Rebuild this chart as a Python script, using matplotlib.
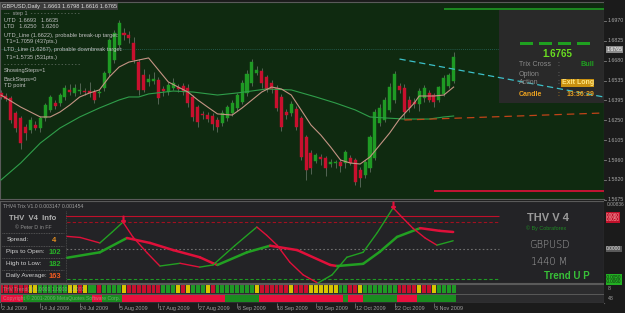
import matplotlib
matplotlib.use("Agg")
import matplotlib.pyplot as plt
from matplotlib.patches import Rectangle
from matplotlib.collections import LineCollection
import numpy as np

plt.rcParams['font.family'] = ['Liberation Sans', 'DejaVu Sans']

# ---------------- data ----------------
opens = [1.6448, 1.6426, 1.6412, 1.6303, 1.6267, 1.6201, 1.6180, 1.6216, 1.6194, 1.6267,
         1.6325, 1.6375, 1.6375, 1.6419, 1.6470, 1.6448, 1.6462, 1.6462, 1.6462, 1.6455,
         1.6448, 1.6484, 1.6593, 1.6687, 1.6796, 1.6883, 1.6868, 1.6810, 1.6672, 1.6578,
         1.6528, 1.6535, 1.6542, 1.6477, 1.6455, 1.6484, 1.6491, 1.6499, 1.6484, 1.6419,
         1.6346, 1.6296, 1.6288, 1.6281, 1.6252, 1.6230, 1.6267, 1.6303, 1.6339, 1.6383,
         1.6448, 1.6520, 1.6593, 1.6607, 1.6564, 1.6520, 1.6484, 1.6419, 1.6310, 1.6303,
         1.6332, 1.6267, 1.6129, 1.6013, 1.5955, 1.5984, 1.5977, 1.5933, 1.5940, 1.5948,
         1.5940, 1.5977, 1.5962, 1.5890, 1.5853, 1.5904, 1.5977, 1.6230, 1.6252, 1.6325,
         1.6397, 1.6499, 1.6484, 1.6397, 1.6383, 1.6368, 1.6412, 1.6448, 1.6433, 1.6397,
         1.6441, 1.6499, 1.6535]
closes = [1.6419, 1.6404, 1.6252, 1.6194, 1.6085, 1.6158, 1.6252, 1.6194, 1.6267, 1.6361,
          1.6419, 1.6354, 1.6433, 1.6484, 1.6455, 1.6484, 1.6466, 1.6455, 1.6448, 1.6397,
          1.6455, 1.6593, 1.6832, 1.6883, 1.6955, 1.6868, 1.6847, 1.6687, 1.6470, 1.6470,
          1.6549, 1.6549, 1.6412, 1.6462, 1.6506, 1.6520, 1.6477, 1.6455, 1.6375, 1.6274,
          1.6237, 1.6288, 1.6259, 1.6223, 1.6201, 1.6303, 1.6346, 1.6375, 1.6433, 1.6520,
          1.6586, 1.6672, 1.6615, 1.6520, 1.6477, 1.6477, 1.6339, 1.6201, 1.6288, 1.6368,
          1.6201, 1.5984, 1.5890, 1.5904, 1.5999, 1.5969, 1.5904, 1.5948, 1.5944, 1.5919,
          1.6020, 1.5940, 1.5803, 1.5832, 1.5948, 1.6129, 1.6310, 1.6339, 1.6397, 1.6491,
          1.6586, 1.6470, 1.6310, 1.6339, 1.6368, 1.6462, 1.6484, 1.6397, 1.6383, 1.6491,
          1.6557, 1.6578, 1.6709]
highs = [1.6470, 1.6448, 1.6426, 1.6317, 1.6281, 1.6223, 1.6274, 1.6245, 1.6281, 1.6375,
         1.6433, 1.6397, 1.6448, 1.6506, 1.6513, 1.6513, 1.6520, 1.6484, 1.6528, 1.6477,
         1.6477, 1.6607, 1.6847, 1.6905, 1.6977, 1.6919, 1.6897, 1.6854, 1.6694, 1.6622,
         1.6586, 1.6600, 1.6564, 1.6499, 1.6528, 1.6557, 1.6513, 1.6520, 1.6513, 1.6433,
         1.6361, 1.6317, 1.6310, 1.6303, 1.6274, 1.6325, 1.6361, 1.6397, 1.6448, 1.6542,
         1.6615, 1.6694, 1.6643, 1.6629, 1.6578, 1.6542, 1.6506, 1.6441, 1.6332, 1.6390,
         1.6354, 1.6281, 1.6143, 1.6035, 1.6013, 1.6006, 1.5991, 1.5969, 1.5962, 1.5969,
         1.6035, 1.5999, 1.5977, 1.5911, 1.5962, 1.6143, 1.6332, 1.6368, 1.6419, 1.6520,
         1.6607, 1.6520, 1.6513, 1.6426, 1.6412, 1.6484, 1.6506, 1.6470, 1.6448, 1.6499,
         1.6578, 1.6593, 1.6745]
lows = [1.6404, 1.6390, 1.6230, 1.6165, 1.6043, 1.6107, 1.6158, 1.6180, 1.6165, 1.6245,
        1.6310, 1.6332, 1.6354, 1.6397, 1.6433, 1.6426, 1.6441, 1.6433, 1.6419, 1.6375,
        1.6419, 1.6462, 1.6570, 1.6665, 1.6774, 1.6832, 1.6810, 1.6665, 1.6433, 1.6455,
        1.6499, 1.6513, 1.6368, 1.6426, 1.6433, 1.6470, 1.6455, 1.6433, 1.6346, 1.6245,
        1.6201, 1.6259, 1.6237, 1.6180, 1.6165, 1.6209, 1.6245, 1.6281, 1.6317, 1.6368,
        1.6426, 1.6499, 1.6578, 1.6484, 1.6455, 1.6448, 1.6317, 1.6172, 1.6259, 1.6281,
        1.6180, 1.5962, 1.5817, 1.5861, 1.5940, 1.5926, 1.5846, 1.5911, 1.5904, 1.5875,
        1.5904, 1.5926, 1.5781, 1.5766, 1.5832, 1.5875, 1.5962, 1.6209, 1.6237, 1.6310,
        1.6375, 1.6448, 1.6259, 1.6310, 1.6339, 1.6317, 1.6383, 1.6383, 1.6346, 1.6383,
        1.6426, 1.6484, 1.6520]

date_labels = ["2 Jul 2009", "14 Jul 2009", "24 Jul 2009", "5 Aug 2009", "17 Aug 2009",
               "27 Aug 2009", "8 Sep 2009", "18 Sep 2009", "30 Sep 2009", "12 Oct 2009",
               "22 Oct 2009", "3 Nov 2009"]
date_label_bars = [0, 8, 16, 24, 32, 40, 48, 56, 64, 72, 80, 88]

fast_ma_bars = [0, 4, 8, 10, 12, 14, 16, 18, 20, 22, 24, 26, 28, 30, 32, 34, 36, 38, 40, 42, 44,
                47, 49, 51, 53, 55, 57, 59, 61, 63, 65, 67, 69, 71, 73, 75, 77, 79, 81, 84, 85,
                88, 90, 92]
fast_ma = [1.6433, 1.6346, 1.6274, 1.6274, 1.6310, 1.6361, 1.6419, 1.6448, 1.6470, 1.6564,
           1.6636, 1.6672, 1.6687, 1.6702, 1.6615, 1.6528, 1.6491, 1.6455, 1.6397, 1.6346,
           1.6296, 1.6288, 1.6339, 1.6397, 1.6455, 1.6491, 1.6477, 1.6433, 1.6325, 1.6216,
           1.6143, 1.6056, 1.5962, 1.5940, 1.5933, 1.5984, 1.6071, 1.6158, 1.6259, 1.6375,
           1.6426, 1.6426, 1.6433, 1.6491]
slow_ma_bars = [0, 4, 8, 12, 16, 20, 24, 26, 28, 30, 35, 39, 44, 48, 54, 59, 64, 68, 72, 75,
                78, 82, 87, 90, 92]
slow_ma = [1.5817, 1.5940, 1.6085, 1.6194, 1.6274, 1.6339, 1.6397, 1.6419, 1.6419, 1.6441,
           1.6462, 1.6455, 1.6433, 1.6448, 1.6477, 1.6470, 1.6419, 1.6375, 1.6325, 1.6274,
           1.6267, 1.6259, 1.6259, 1.6274, 1.6281]

utd_line_bars = [81, 122.5]
utd_line = [1.6694, 1.6419]
ltd_line_bars = [82, 122.5]
ltd_line = [1.6252, 1.6303]
up_target, up_target_from = 1.7059, 90
down_target, down_target_from = 1.5735, 88
bid = 1.6765

price_ticks = [1.6970, 1.6825, 1.6680, 1.6535, 1.6395, 1.6250, 1.6105, 1.5960, 1.5820, 1.5675]

trix_fast_bars = [13.4, 16.1, 20.1, 22.5, 24.8, 26.8, 29.7, 32.3, 36.4, 40.4, 43.1, 47.5, 52.0,
                  54.0, 56.1, 58.7, 61.4, 64.4, 67.3, 70.3, 73.6, 76.5, 79.7, 81.5, 83.7, 86.2,
                  88.6, 91.9]
trix_fast = [0.0023, 0.0021, 0.0011, 0.0030, 0.0049, 0.0022, -0.0007, -0.0031, -0.0026,
             -0.0033, -0.0029, 0.0006, 0.0040, 0.0025, 0.0007, -0.0024, -0.0047, -0.0062,
             -0.0047, -0.0015, -0.0006, 0.0030, 0.0075, 0.0058, 0.0038, 0.0020, 0.0007, 0.0015]
trix_slow_bars = [13.4, 20.1, 25.6, 30.3, 35.0, 40.4, 43.1, 44.0, 50.0, 54.7, 60.2, 66.9,
                  68.3, 73.6, 77.0, 80.5, 85.2, 89.2, 91.9]
trix_slow = [-0.0016, -0.0006, 0.0020, 0.0011, -0.0002, -0.0015, -0.0026, -0.0029, -0.0006,
             0.0006, -0.0002, -0.0029, -0.0031, -0.0027, -0.0005, 0.0022, 0.0038, 0.0033, 0.0031]
trix_peaks_bars = [24.8, 79.7]
trix_peaks = [0.0055, 0.0080]
trix_levels = [0.0060, 0.0050, 0.0, -0.0055]

trend_row1 = ("rrrrrr" "yy" "gggggg" "yy" "r" "y" "gg" "r" "gggg" "y" "rrrrrrr" "ggg" "y" "r"
              "y" "ggg" "y" "r" "gggggggg" "y" "rrrrrr" "y" "rrr" "yyyyyy" "gg" "rr" "y"
              "ggggggg" "rrrr" "y" "rr" "y" "gggg")
trend_row2 = ("rrrrr" "gggggggggggggg" "rr" "gggg" "rrrrrrrrrrrrrrrrrrrrr" "ggggggg"
              "rrrrrrrrrrrrrrrrr" "g" "rrr" "ggggggg" "rrrr" "gggggggg")

# ---------------- layout helpers ----------------
W, H = 625, 313
fig = plt.figure(figsize=(W / 100, H / 100), dpi=100, facecolor='#1b1b1b')


def px_axes(x0, y0, x1, y1, fc):
    a = fig.add_axes([x0 / W, 1 - y1 / H, (x1 - x0) / W, (y1 - y0) / H])
    a.set_facecolor(fc)
    a.set_xticks([]); a.set_yticks([])
    for s in a.spines.values():
        s.set_color('#5a5a5a'); s.set_linewidth(0.8)
    return a


def ftxt(x, y, s, **kw):
    kw.setdefault('va', 'center')
    kw.setdefault('ha', 'left')
    return fig.text(x / W, 1 - y / H, s, **kw)


XL = (-0.2, 122.56)
n = len(opens)
idx = np.arange(n)

# ---------------- main price panel ----------------
ax = px_axes(0, 2, 604, 199, '#0f2a10')
ax.set_xlim(*XL)
ax.set_ylim(1.567925, 1.71075)

o = np.array(opens); c = np.array(closes)
up = c >= o
ax.vlines(idx, lows, highs, color='#5f6e5f', lw=0.6, zorder=2)
body_lo = np.minimum(o, c)
body_h = np.maximum(np.abs(c - o), 0.00035)
ax.bar(idx[up], body_h[up], bottom=body_lo[up], width=0.62, color='#1f9a24',
       edgecolor='#1f9a24', lw=0.3, zorder=3)
ax.bar(idx[~up], body_h[~up], bottom=body_lo[~up], width=0.62, color='#c8102e',
       edgecolor='#c8102e', lw=0.3, zorder=3)

ax.plot(slow_ma_bars, slow_ma, color='#2f9e4a', lw=0.8, zorder=4)
ax.plot(fast_ma_bars, fast_ma, color='#c49484', lw=0.8, zorder=4)

ax.axhline(bid, color='#2a6a60', lw=0.6, ls=(0, (1, 1.5)), zorder=1)
ax.add_patch(Rectangle((0.826, 0.487), 0.2, 0.472, transform=ax.transAxes,
                       fc='#292929', ec='none', zorder=1.5))
ax.plot(utd_line_bars, utd_line, color='#3cc0c8', lw=0.9, ls=(0, (5, 3)), zorder=5)
ax.plot(ltd_line_bars, ltd_line, color='#c04418', lw=0.9, ls=(0, (6, 4)), zorder=5)
ax.hlines(up_target, up_target_from, XL[1], color='#1f9a24', lw=1.2, zorder=5)
ax.hlines(down_target, down_target_from, XL[1], color='#e0103a', lw=1.2, zorder=5)

# price scale
axp = px_axes(604, 2, 625, 199, '#1b1b1b')
axp.set_ylim(1.567925, 1.71075)
for s in axp.spines.values():
    s.set_visible(False)
for p in price_ticks:
    axp.plot([0, 0.1], [p, p], color='#808080', lw=0.6, clip_on=False)
    axp.text(0.18, p, f"{p:.4f}", color='#a8a8a8', fontsize=3.8, va='center',
             clip_on=False)
axp.set_xlim(0, 1)
axp.text(0.12, bid, f"{bid:.4f}", color='white', fontsize=3.8, va='center',
         bbox=dict(fc='#8c8c8c', ec='none', pad=0.6), clip_on=False, zorder=5)

# main text block
ftxt(2, 6.5, "GBPUSD,Daily  1.6663 1.6798 1.6616 1.6765", color='#e0e0e0', fontsize=4.1,
     bbox=dict(fc='#3c3c3c', ec='none', pad=0.4))
tc = '#c0c0c0'
ftxt(4, 13, "---  step 1  - - - - - - - - - - - - - - -", color='#a0a0a0', fontsize=4)
ftxt(4, 20, "UTD  1.6693   1.6635", color=tc, fontsize=4.1)
ftxt(4, 27, "LTD   1.6250   1.6260", color=tc, fontsize=4.1)
ftxt(4, 35, "UTD_Line (1.6622), probable break-up target:", color=tc, fontsize=4.1)
ftxt(6, 42, "T1=1.7059 (437pts.)", color=tc, fontsize=4.1)
ftxt(4, 50, "LTD_Line (1.6267), probable downbreak target:", color=tc, fontsize=4.1)
ftxt(6, 57, "T1=1.5735 (531pts.)", color=tc, fontsize=4.1)
ftxt(4, 64, "- - - - - - - - - - - - - - - - - - - - - - -", color='#a0a0a0', fontsize=4)
ftxt(4, 71, "ShowingSteps=1", color=tc, fontsize=4.1)
ftxt(4, 79, "BackSteps=0", color=tc, fontsize=4.1)
ftxt(4, 86, "TD point", color=tc, fontsize=4.1)

# right info box
for x0 in (520, 539, 558, 577):
    fig.patches.append(Rectangle((x0 / W, 1 - 45 / H), 13 / W, 3 / H,
                                 transform=fig.transFigure, fc='#1fa020', ec='none'))
ftxt(557, 54, "1.6765", color='#6adf20', fontsize=7, fontweight='bold', ha='center')
gc = '#8a8a8a'
ftxt(519, 65, "Trix Cross", color=gc, fontsize=5)
ftxt(557, 65, ":", color=gc, fontsize=5)
ftxt(594, 65, "Bull", color='#1fa020', fontsize=5.2, fontweight='bold', ha='right')
ftxt(519, 74, "Option", color=gc, fontsize=5)
ftxt(557, 74, ":", color=gc, fontsize=5)
ftxt(519, 83, "Action", color=gc, fontsize=5)
ftxt(557, 83, ":", color=gc, fontsize=5)
ftxt(594, 83, "Exit Long", color='#ffe680', fontsize=5, fontweight='bold', ha='right',
     bbox=dict(fc='#c89010', ec='none', pad=0.3))
ftxt(519, 94, "Candle", color='#e8a020', fontsize=5, fontweight='bold')
ftxt(557, 94, ":", color='#e8a020', fontsize=5)
ftxt(594, 94, "13:36:29", color='#e8a020', fontsize=5, fontweight='bold', ha='right')

# ---------------- Trix panel ----------------
ax2 = px_axes(0, 201, 604, 283, '#232326')
ax2.set_xlim(*XL)
ax2.set_ylim(-0.006188, 0.008736)
lvl_styles = [('#c0102a', '-'), ('#a01020', (0, (3, 2))), ('#707070', (0, (1.5, 2))),
              ('#1f9a24', (0, (3, 2)))]
for lv, (col, ls) in zip(trix_levels, lvl_styles):
    ax2.hlines(lv, XL[0], 101.2, color=col, lw=0.8, ls=ls, zorder=1)


def colored_line(a, xs, ys, lw):
    pts = np.column_stack([xs, ys])
    segs = np.stack([pts[:-1], pts[1:]], axis=1)
    cols = ['#22a022' if y1 >= y0 else '#e0103a' for y0, y1 in zip(ys[:-1], ys[1:])]
    a.add_collection(LineCollection(segs, colors=cols, linewidths=lw, zorder=3,
                                    capstyle='round', joinstyle='round'))


colored_line(ax2, trix_slow_bars, trix_slow, 1.8)
colored_line(ax2, trix_fast_bars, trix_fast, 1.0)
ax2.scatter(trix_peaks_bars, trix_peaks, marker=r'$\downarrow$', s=22, color='#e0103a',
            zorder=4)

# left info box in trix panel
ax2.add_patch(Rectangle((0, 0), 66 / 604, 0.87, transform=ax2.transAxes, fc='#232326',
                        ec='none', zorder=2))
for yy in (233, 246, 258, 270):
    fig.lines.append(plt.Line2D([2 / W, 64 / W], [1 - yy / H, 1 - yy / H],
                                transform=fig.transFigure, color='#606060', lw=0.6,
                                ls=(0, (1, 1))))
fig.lines.append(plt.Line2D([66 / W, 66 / W], [1 - 211 / H, 1 - 283 / H],
                            transform=fig.transFigure, color='#505050', lw=0.6,
                            ls=(0, (1, 1))))
ftxt(3, 207, "THV4 Trix V1.0 0.003147 0.001454", color='#a0a0a0', fontsize=3.7)
ftxt(33, 219, "THV  V4  Info", color='#b0b0b0', fontsize=5.6, fontweight='bold', ha='center')
ftxt(33, 227.5, "© Peter D in FF", color='#909090', fontsize=3.8, ha='center')
ftxt(7, 240, "Spread:", color='#d0d0d0', fontsize=4.6)
ftxt(52, 240, "4", color='#e89020', fontsize=5.4, fontweight='bold')
ftxt(6, 252, "Pips to Open:", color='#d0d0d0', fontsize=4.6)
ftxt(49, 252, "102", color='#28b028', fontsize=5.4, fontweight='bold')
ftxt(6, 264, "High to Low:", color='#d0d0d0', fontsize=4.6)
ftxt(49, 264, "182", color='#28b028', fontsize=5.4, fontweight='bold')
ftxt(6, 276, "Daily Average:", color='#d0d0d0', fontsize=4.6)
ftxt(49, 276, "163", color='#f05a20', fontsize=5.4, fontweight='bold')

ftxt(548, 218, "THV V 4", color='#9a9a9a', fontsize=8, fontweight='bold', ha='center')
ftxt(546, 228, "© By Cobraforex", color='#1f8a24', fontsize=3.9, ha='center')
ftxt(549, 245, "GBPUSD", color='#a8a8a8', fontsize=7, ha='center', family='DejaVu Sans',
     fontweight='light')
ftxt(549, 262, "1440 M", color='#a8a8a8', fontsize=7, ha='center', family='DejaVu Sans',
     fontweight='light')
ftxt(567, 276, "Trend U P", color='#38c038', fontsize=7, fontweight='bold', ha='center')

# ---------------- trend strip ----------------
ax3 = px_axes(0, 284, 604, 303, '#2c2c2e')
ax3.set_xlim(*XL)
ax3.set_ylim(0, 1)
cmap1 = {'r': '#c8102e', 'g': '#1f9a24', 'y': '#d8c400'}
cmap2 = {'r': '#e8103e', 'g': '#1a8c20', 'y': '#d8c400'}
ax3.bar(idx, 0.42, bottom=0.53, width=0.8, color=[cmap1[k] for k in trend_row1], zorder=2)
ax3.bar(idx, 0.37, bottom=0.06, width=1.0, color=[cmap2[k] for k in trend_row2], zorder=2)
ax3.axhline(0.49, color='#6a6a6a', lw=0.5, zorder=3)
ftxt(3, 289, "THV Trend(1) 1.0000 1.0000 1.0000", color='#b0c8b0', fontsize=3.6, alpha=0.55)
ftxt(3, 298.5, "Copyright © 2001-2009 MetaQuotes Software Corp.", color='#b0c8b0',
     fontsize=3.6, alpha=0.55)

# right scale of lower panels
axr = px_axes(604, 201, 625, 303, '#1b1b1b')
for s in axr.spines.values():
    s.set_visible(False)
ftxt(607, 204.5, "0.00836", color='#a0a0a0', fontsize=3.5)
ftxt(606, 217.5, "0.0060\n0.0050", color='#ffb0b0', fontsize=3.3, linespacing=0.9,
     bbox=dict(fc='#c0102a', ec='none', pad=0.3))
ftxt(606, 249, "0.0000", color='#e0e0e0', fontsize=3.5,
     bbox=dict(fc='#5a5a5a', ec='none', pad=0.3))
ftxt(606, 279.5, "-0.0050\n-0.0060", color='#103010', fontsize=3.3, linespacing=0.9,
     bbox=dict(fc='#22b022', ec='none', pad=0.3))
ftxt(608, 289, "8", color='#a0a0a0', fontsize=3.8)
ftxt(608, 298.5, "48", color='#a0a0a0', fontsize=3.8)

# ---------------- date axis ----------------
axd = px_axes(0, 303, 604, 313, '#1b1b1b')
axd.set_xlim(*XL)
axd.set_ylim(0, 1)
for s in axd.spines.values():
    s.set_visible(False)
for b, lab in zip(date_label_bars, date_labels):
    axd.vlines(b, 0.55, 1.0, color='#808080', lw=0.5)
    axd.text(b + 0.15, 0.42, lab, color='#a0a0a0', fontsize=3.9, va='center', ha='left',
             clip_on=False)

fig.savefig("out.png", dpi=100, facecolor=fig.get_facecolor())
